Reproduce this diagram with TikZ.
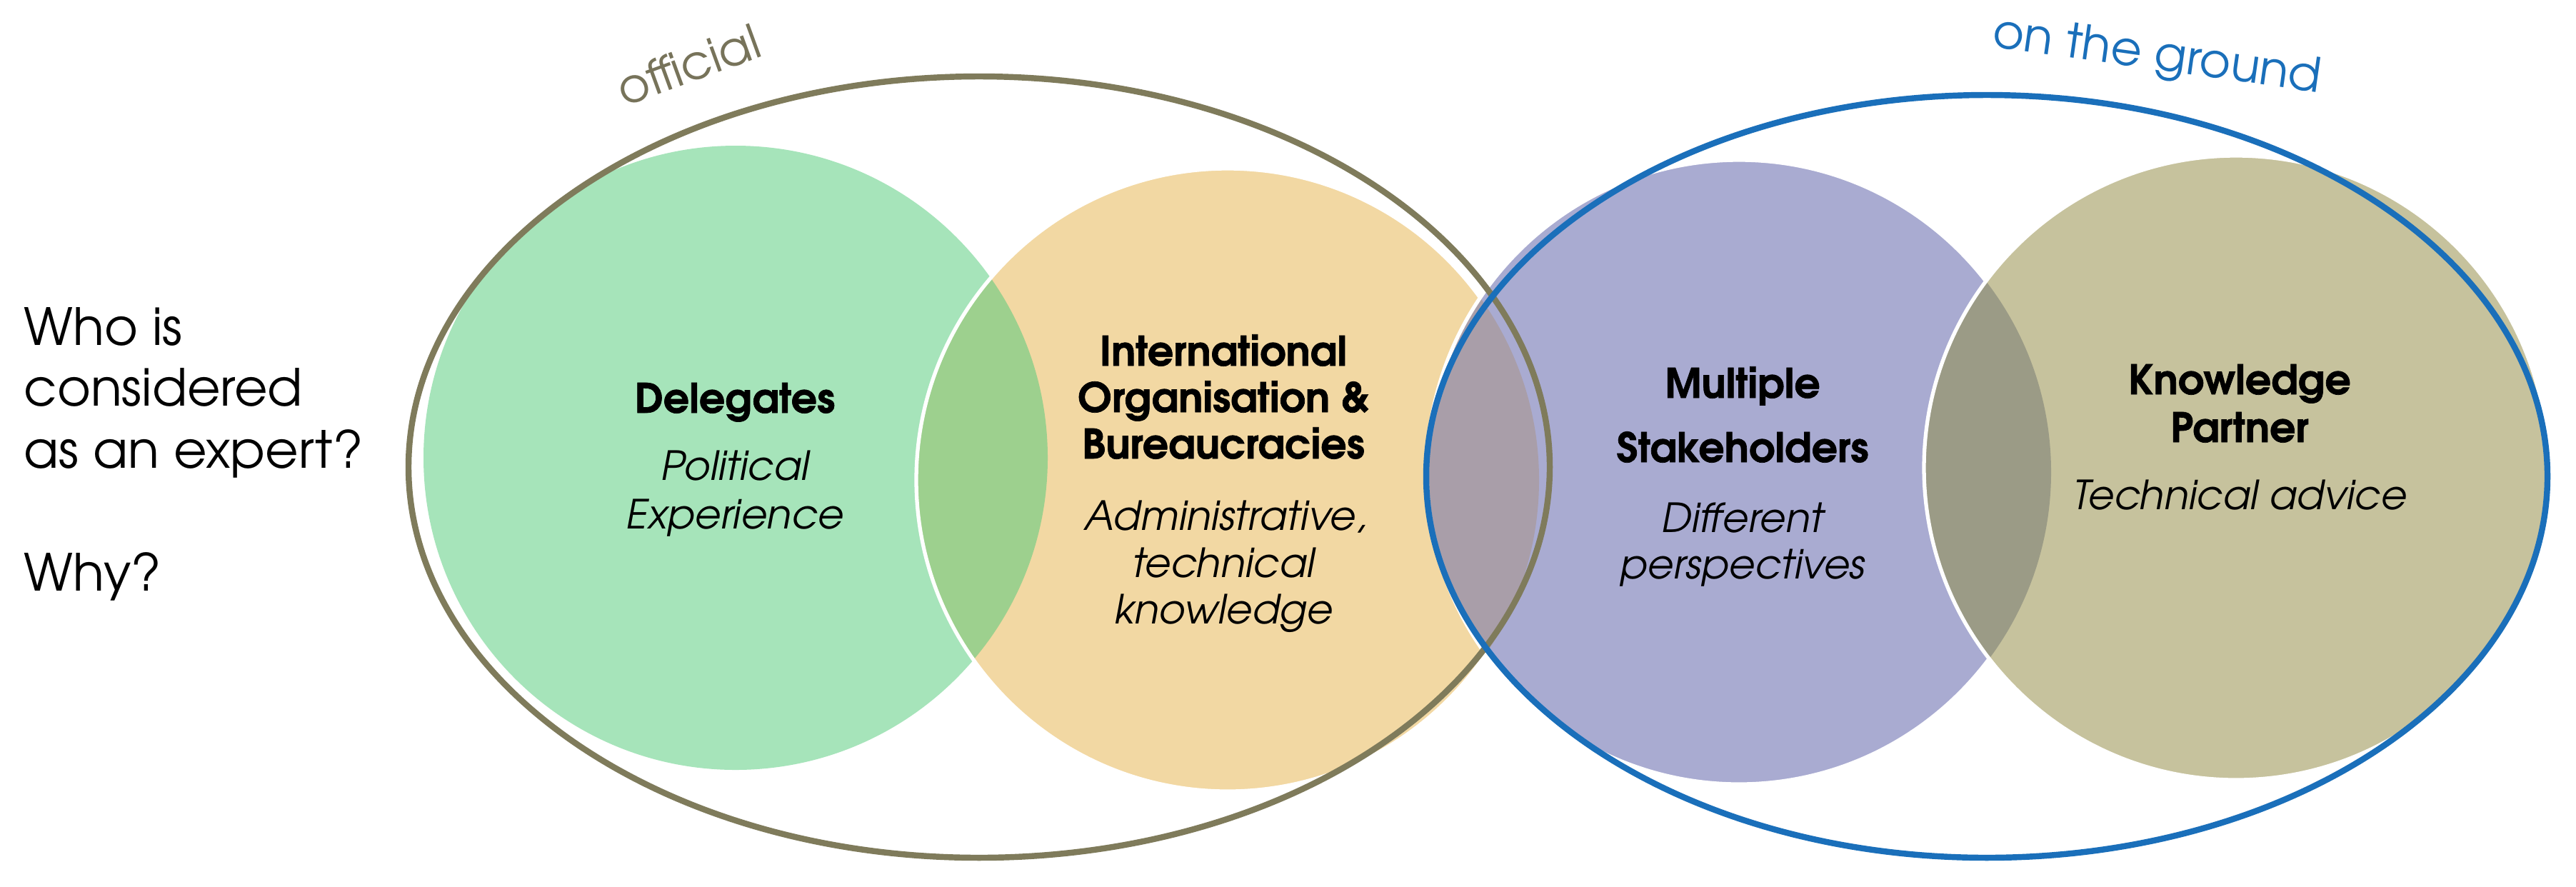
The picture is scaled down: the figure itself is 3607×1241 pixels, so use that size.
\documentclass[tikz,border=0pt]{standalone}
\usepackage{fontspec}
\setmainfont{TeX Gyre Adventor}[BoldFeatures={FakeBold=1.2}]
\definecolor{delg}{HTML}{A6E4BA}
\definecolor{delio}{HTML}{9DD08E}
\definecolor{iotan}{HTML}{F2D8A3}
\definecolor{ioms}{HTML}{A99EA9}
\definecolor{mslav}{HTML}{A9ABD1}
\definecolor{mskp}{HTML}{9B9B86}
\definecolor{kpkhaki}{HTML}{C6C29D}
\definecolor{olive}{HTML}{7F7B5B}
\definecolor{oliveText}{HTML}{77735A}
\definecolor{bluering}{HTML}{1A6FBA}
\begin{document}
\begin{tikzpicture}[x=0.01cm,y=-0.01cm,
  whiteedge/.style={draw=white,line width=1.5pt},
  ring/.style={line width=2.4pt},
  question/.style={anchor=base west,inner sep=0pt,font=\fontsize{20.4}{24.5}\selectfont},
  title/.style={anchor=base,inner sep=0pt,font=\bfseries\fontsize{16.2}{19}\selectfont},
  detail/.style={anchor=base,inner sep=0pt,font=\itshape\fontsize{16}{19}\selectfont},
  ringlabel/.style={inner sep=0pt,font=\fontsize{19}{22}\selectfont}]
\fill[white] (0,0) rectangle (3607,1241);
\useasboundingbox (0,0) rectangle (3607,1241);

% Delegates
\fill[delg] (1030,641) circle [radius=437];
% International Organisation
\fill[iotan] (1719,672) circle [radius=436];
\begin{scope}
  \clip (1719,672) circle [radius=436];
  \fill[delio] (1030,641) circle [radius=437];
\end{scope}
\draw[whiteedge] (1719,672) circle [radius=436];
% Multiple Stakeholders
\fill[mslav] (2435,661) circle [radius=437];
\begin{scope}
  \clip (2435,661) circle [radius=437];
  \fill[ioms] (1719,672) circle [radius=436];
\end{scope}
\draw[whiteedge] (2435,661) circle [radius=437];
% Knowledge Partner
\fill[kpkhaki] (3131,655) circle [radius=437];
\begin{scope}
  \clip (3131,655) circle [radius=437];
  \fill[mskp] (2435,661) circle [radius=437];
\end{scope}
\draw[whiteedge] (3131,655) circle [radius=437];

% outer rings
\draw[ring,olive] (1371,654) ellipse [x radius=799,y radius=547];
\draw[ring,bluering] (2782,667) ellipse [x radius=785,y radius=534];

% ring labels
\node[ringlabel,text=oliveText,rotate=20] (official) at (964,91) {official};
\node[ringlabel,text=bluering,rotate=-8] (ground) at (3020,80) {on the ground};

% question
\node[question] (q1) at (33,483) {Who is};
\node[question] (q2) at (33,568) {considered};
\node[question] (q3) at (33,655) {as an expert?};
\node[question] (q4) at (33,827) {Why?};

% Delegates text
\node[title] (d1) at (1029,578) {Delegates};
\node[detail] (d2) at (1029,672) {Political};
\node[detail] (d3) at (1029,740) {Experience};

% IO text
\node[title] (i1) at (1713,512) {International};
\node[title] (i2) at (1713,577) {Organisation \&};
\node[title] (i3) at (1713,642) {Bureaucracies};
\node[detail] (i4) at (1716,742) {Administrative,};
\node[detail] (i5) at (1713,808) {technical};
\node[detail] (i6) at (1713,873) {knowledge};

% MS text
\node[title] (m1) at (2440,557) {Multiple};
\node[title] (m2) at (2440,647) {Stakeholders};
\node[detail] (m3) at (2440,745) {Different};
\node[detail] (m4) at (2440,810) {perspectives};

% KP text
\node[title] (k1) at (3136,552) {Knowledge};
\node[title] (k2) at (3136,619) {Partner};
\node[detail] (k3) at (3136,713) {Technical advice};
\end{tikzpicture}
\end{document}
